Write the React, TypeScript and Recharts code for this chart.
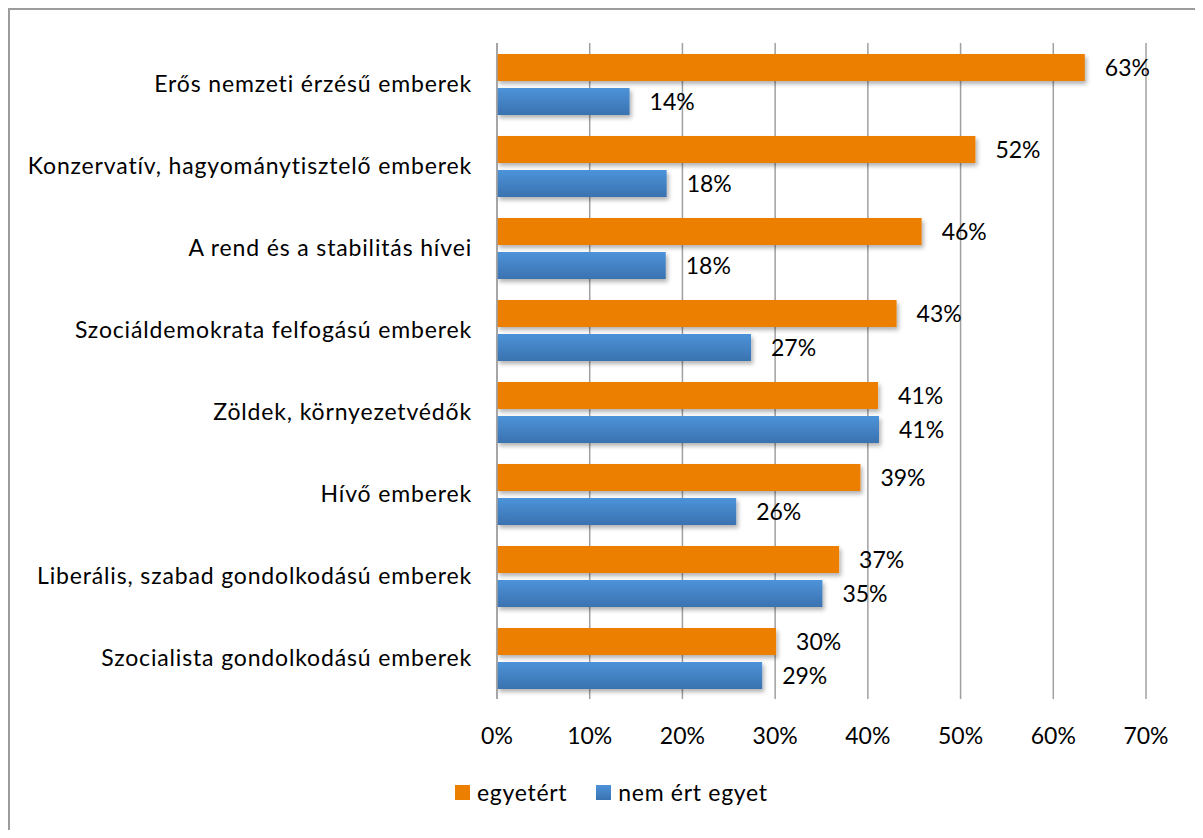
import React from 'react';
import { Bar, BarChart, CartesianGrid, LabelList, Legend, XAxis, YAxis } from 'recharts';

const CATEGORIES = [
  'Erős nemzeti érzésű emberek',
  'Konzervatív, hagyománytisztelő emberek ',
  'A rend és a stabilitás hívei',
  'Szociáldemokrata felfogású emberek',
  'Zöldek, környezetvédők',
  'Hívő emberek',
  'Liberális, szabad gondolkodású emberek',
  'Szocialista gondolkodású emberek',
];

const AGREE = [63.4, 51.6, 45.8, 43.1, 41.1, 39.2, 36.9, 30.1];
const DISAGREE = [14.3, 18.3, 18.2, 27.4, 41.2, 25.8, 35.1, 28.6];

const X_TICKS = [0, 10, 20, 30, 40, 50, 60, 70];

const SERIES = [
  { key: 'agree', name: 'egyetért', fill: '#EC7E00', swatch: '#EC7E00' },
  { key: 'disagree', name: 'nem ért egyet', fill: 'url(#blueGrad)', swatch: 'linear-gradient(#4D93D9, #3A72B0)' },
];

const data = CATEGORIES.map((name, i) => ({
  name,
  agree: AGREE[i],
  disagree: DISAGREE[i],
}));

const FONT = 'Lato, "Open Sans", sans-serif';
const FS = 23;

function LegendContent() {
  return (
    <div
      style={{
        display: 'flex',
        alignItems: 'center',
        paddingLeft: 445,
        fontFamily: FONT,
        fontSize: FS,
        letterSpacing: 0.7,
        color: '#000',
      }}
    >
      {SERIES.map((s, i) => (
        <div key={s.key} style={{ display: 'flex', alignItems: 'center', marginRight: i === 0 ? 29 : 0 }}>
          <span style={{ display: 'inline-block', width: 15, height: 15, background: s.swatch, marginRight: 7 }} />
          <span>{s.name}</span>
        </div>
      ))}
    </div>
  );
}

export default function App() {
  return (
    <div
      style={{
        width: 1191,
        height: 820,
        borderTop: '2px solid #9c9c9c',
        borderLeft: '2px solid #9c9c9c',
        borderRight: '2px solid #b0b0b0',
        background: '#fff',
      }}
    >
      <BarChart
        width={1191}
        height={820}
        data={data}
        layout="vertical"
        margin={{ top: 33, right: 55, bottom: 71, left: 0 }}
        barSize={27}
        barGap={7}
      >
        <defs>
          <linearGradient id="blueGrad" x1="0" y1="0" x2="0" y2="1">
            <stop offset="0%" stopColor="#4D93D9" />
            <stop offset="100%" stopColor="#3A72B0" />
          </linearGradient>
          <filter id="barShadow" x="-5%" y="-20%" width="115%" height="160%">
            <feDropShadow dx="2" dy="3" stdDeviation="2" floodColor="#000" floodOpacity="0.3" />
          </filter>
        </defs>
        <CartesianGrid horizontal={false} stroke="#a0a0a0" strokeWidth={1.5} />
        <XAxis
          type="number"
          domain={[0, 70]}
          ticks={X_TICKS}
          tickFormatter={(v: number) => `${v}%`}
          axisLine={false}
          tickLine={false}
          tickSize={6}
          tickMargin={23}
          height={60}
          tick={{ fontSize: FS, fill: '#000', fontFamily: FONT }}
          interval={0}
        />
        <YAxis
          type="category"
          dataKey="name"
          width={487}
          axisLine={{ stroke: '#a0a0a0', strokeWidth: 1.5 }}
          tickLine={false}
          tickSize={6}
          tickMargin={19}
          tick={{ fontSize: FS, fill: '#000', fontFamily: FONT, letterSpacing: 0.85 }}
          interval={0}
        />
        <Legend
          layout="horizontal"
          verticalAlign="middle"
          align="center"
          wrapperStyle={{ position: 'absolute', top: 768, left: 0, width: 1191 }}
          content={<LegendContent />}
        />
        {SERIES.map((s) => (
          <Bar key={s.key} dataKey={s.key} name={s.name} fill={s.fill} filter="url(#barShadow)" isAnimationActive={false}>
            <LabelList
              dataKey={s.key}
              position="right"
              offset={20}
              formatter={(v: number) => `${Math.round(v)}%`}
              style={{ fontSize: FS, fill: '#000', fontFamily: FONT }}
            />
          </Bar>
        ))}
      </BarChart>
    </div>
  );
}
